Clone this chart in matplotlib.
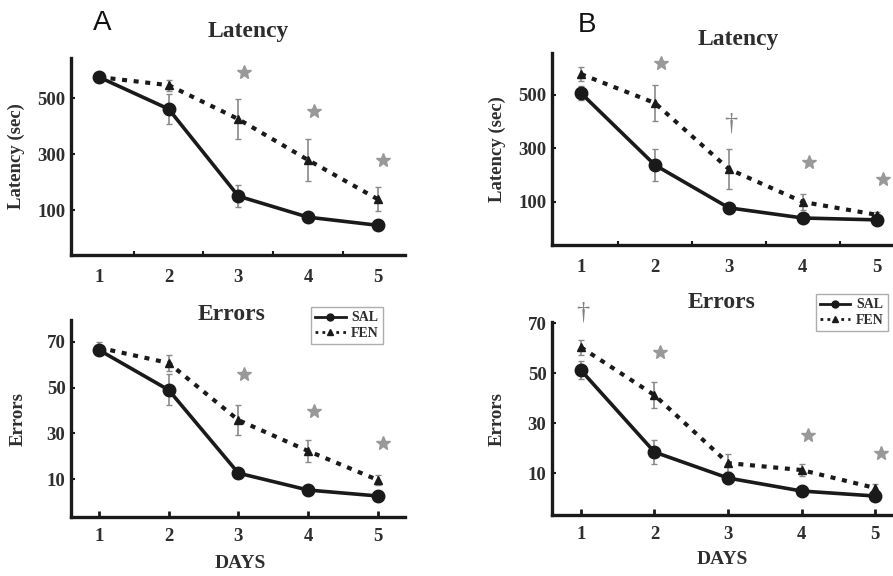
import numpy as np
import matplotlib
matplotlib.use("Agg")
from matplotlib import pyplot as plt
from matplotlib.lines import Line2D

days = [1, 2, 3, 4, 5]

# panel A, latency (sec)
a_lat_sal = [575, 461, 150, 75, 46]
a_lat_sal_err = [10, 55, 40, 8, 8]
a_lat_fen = [575, 546, 425, 279, 139]
a_lat_fen_err = [15, 20, 70, 74, 42]
a_lat_marks = ["*", "*", "*"]
a_lat_mark_days = [3, 4, 5]
a_lat_mark_y = [593, 454, 279]

# panel B, latency (sec)
b_lat_sal = [507, 238, 78, 40, 33]
b_lat_sal_err = [25, 60, 10, 5, 5]
b_lat_fen = [578, 470, 223, 100, 52]
b_lat_fen_err = [27, 68, 75, 30, 10]
b_lat_marks = ["*", "†", "*", "*"]
b_lat_mark_days = [2, 3, 4, 5]
b_lat_mark_y = [620, 395, 250, 186]

# panel A, errors
a_err_sal = [66.5, 49, 12.6, 5.2, 2.6]
a_err_sal_err = [2, 6.8, 2, 1, 1]
a_err_fen = [67.5, 60.8, 35.8, 22.3, 9.6]
a_err_fen_err = [2.5, 3.6, 6.6, 4.8, 2]
a_err_marks = ["*", "*", "*"]
a_err_mark_days = [3, 4, 5]
a_err_mark_y = [56, 40, 25.8]

# panel B, errors
b_err_sal = [51.2, 18.4, 8, 2.8, 0.8]
b_err_sal_err = [3.5, 4.8, 2.5, 1, 1]
b_err_fen = [60.4, 41.2, 14, 11.2, 4]
b_err_fen_err = [3, 5.2, 3.5, 2.5, 1.5]
b_err_marks = ["†", "*", "*", "*"]
b_err_mark_days = [1, 2, 4, 5]
b_err_mark_y = [74.4, 58.4, 25.2, 18]

lat_ticks = [100, 300, 500]
err_ticks = [10, 30, 50, 70]

serif = ["Liberation Serif", "DejaVu Serif"]
ink = "#1a1a1a"
txt = "#2e2e2e"

fig = plt.figure(figsize=(8.93, 5.76), dpi=100)


def panel(rect, sal, sal_err, fen, fen_err, mdays, my, marks, yticks, ylim, xlim,
          ylabel, title, title_xy, ylabel_x, top_row, legend_anchor=None):
    ax = fig.add_axes(rect)
    ax.errorbar(days, fen, yerr=fen_err, fmt="none", ecolor="#8a8a8a",
                elinewidth=1.2, capsize=2.5, zorder=2)
    ax.errorbar(days, sal, yerr=sal_err, fmt="none", ecolor="#8a8a8a",
                elinewidth=1.2, capsize=2.5, zorder=2)
    ax.plot(days, fen, linestyle=(0, (1.2, 1.6)), linewidth=3, color=ink,
            marker="^", markersize=6, zorder=3)
    ax.plot(days, sal, linestyle="-", linewidth=2.6, color=ink,
            marker="o", markersize=9, zorder=4)
    for d, y, m in zip(mdays, my, marks):
        if m == "*":
            ax.plot(d + 0.08, y, marker="*", markersize=10, color="#999999",
                    linestyle="none", clip_on=False, zorder=5)
        else:
            ax.text(d + 0.02, y, m, fontsize=19, color="#808080", ha="center",
                    va="center", family=serif, clip_on=False)
    ax.set_xlim(xlim)
    ax.set_ylim(ylim)
    ax.set_yticks(yticks)
    ax.set_xticks(days)
    for s in ["top", "right"]:
        ax.spines[s].set_visible(False)
    for s in ["left", "bottom"]:
        ax.spines[s].set_linewidth(2.4)
        ax.spines[s].set_color(ink)
    if top_row:
        # tick marks sit between the day labels in the top panels
        ax.set_xticks([1.5, 2.5, 3.5, 4.5], minor=True)
        ax.tick_params(axis="x", which="major", length=0, pad=10)
        ax.tick_params(axis="x", which="minor", direction="in", length=3,
                       width=1.5, color=ink)
    else:
        ax.tick_params(axis="x", which="major", direction="in", length=4,
                       width=2, color=ink, pad=8)
    ax.tick_params(axis="y", direction="in", length=3, width=1.5, color=ink, pad=4)
    for lab in ax.get_xticklabels() + ax.get_yticklabels():
        lab.set_family(serif)
        lab.set_fontweight("bold")
        lab.set_fontsize(13.5)
        lab.set_color(txt)
    fig.text(ylabel_x, rect[1] + rect[3] / 2, ylabel, rotation=90, ha="center",
             va="center", family=serif, fontweight="bold", fontsize=13.5, color=txt)
    fig.text(title_xy[0], title_xy[1], title, ha="center", va="center",
             family=serif, fontweight="bold", fontsize=17, color=txt)
    if legend_anchor is not None:
        handles = [Line2D([], [], color=ink, linewidth=2, marker="o", markersize=5),
                   Line2D([], [], color=ink, linewidth=2, linestyle=(0, (1, 1.5)),
                          marker="^", markersize=4)]
        leg = ax.legend(handles, ["SAL", "FEN"], loc="upper right",
                        bbox_to_anchor=legend_anchor, fancybox=False,
                        handlelength=2.2, handletextpad=0.4, borderpad=0.3,
                        labelspacing=0.2, prop={"family": serif, "size": 10,
                                                "weight": "bold"})
        leg.get_frame().set_edgecolor("#999999")
        leg.get_frame().set_linewidth(1)
        for t in leg.get_texts():
            t.set_color(txt)
    return ax


W, H = 893.0, 576.0

axA1 = panel([71 / W, 1 - 255 / H, 334 / W, 197 / H],
             a_lat_sal, a_lat_sal_err, a_lat_fen, a_lat_fen_err,
             a_lat_mark_days, a_lat_mark_y, a_lat_marks, lat_ticks, (-60, 643),
             (0.6, 5.39), "Latency (sec)", "Latency", (248 / W, 1 - 32 / H),
             16 / W, True)
axB1 = panel([552 / W, 1 - 245 / H, 341 / W, 192 / H],
             b_lat_sal, b_lat_sal_err, b_lat_fen, b_lat_fen_err,
             b_lat_mark_days, b_lat_mark_y, b_lat_marks, lat_ticks, (-61, 657),
             (0.608, 5.22), "Latency (sec)", "Latency", (738 / W, 1 - 39 / H),
             497 / W, True)
axA2 = panel([71 / W, 1 - 517 / H, 334 / W, 197 / H],
             a_err_sal, a_err_sal_err, a_err_fen, a_err_fen_err,
             a_err_mark_days, a_err_mark_y, a_err_marks, err_ticks, (-6.6, 79.6),
             (0.6, 5.39), "Errors", "Errors", (232 / W, 1 - 315 / H),
             18 / W, False, legend_anchor=(0.955, 1.10))
axB2 = panel([552 / W, 1 - 515 / H, 341 / W, 193 / H],
             b_err_sal, b_err_sal_err, b_err_fen, b_err_fen_err,
             b_err_mark_days, b_err_mark_y, b_err_marks, err_ticks, (-6.8, 70.5),
             (0.608, 5.24), "Errors", "Errors", (722 / W, 1 - 303 / H),
             497 / W, False, legend_anchor=(1.005, 1.18))

fig.text(240 / W, 1 - 563 / H, "DAYS", ha="center", va="center", family=serif,
         fontweight="bold", fontsize=14, color=txt)
fig.text(722 / W, 1 - 560 / H, "DAYS", ha="center", va="center", family=serif,
         fontweight="bold", fontsize=14, color=txt)

fig.text(102 / W, 1 - 23 / H, "A", ha="center", va="center", fontsize=20,
         family=["Liberation Sans", "DejaVu Sans"], color="#111111")
fig.text(587 / W, 1 - 25 / H, "B", ha="center", va="center", fontsize=20,
         family=["Liberation Sans", "DejaVu Sans"], color="#111111")

fig.savefig("out.png", dpi=100)
